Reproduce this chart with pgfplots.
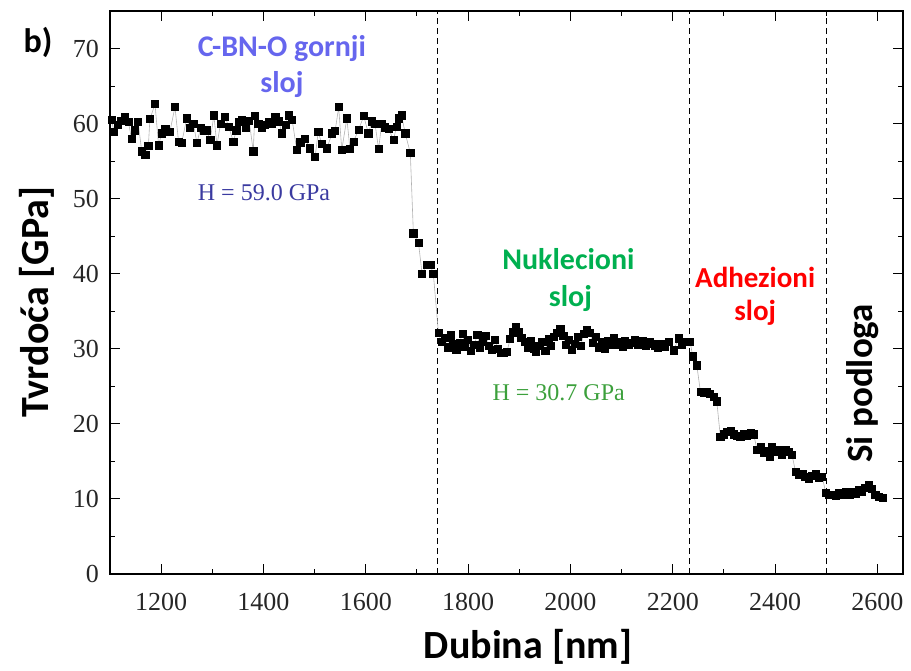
\documentclass[border=0pt]{standalone}
\usepackage{fontspec}
\setmainfont{Liberation Serif}
\newfontfamily\calib{Carlito}
\usepackage{pgfplots}
\pgfplotsset{compat=1.18}
\usepackage{pgfplotstable}

\definecolor{topblue}{RGB}{102,102,238}
\definecolor{hblue}{RGB}{58,58,160}
\definecolor{nukgreen}{RGB}{0,176,80}
\definecolor{hgreen}{RGB}{60,160,60}
\definecolor{adhred}{RGB}{255,0,0}

% nanoindentation hardness profile: depth [nm], hardness [GPa]
\pgfplotstableread{
x y
1103 60.5
1108 58.9
1115 59.8
1122 60.4
1129 60.9
1136 60.2
1142 58.0
1149 59.1
1155 60.2
1162 56.3
1169 55.8
1175 57.0
1178 60.6
1188 62.6
1195 57.1
1201 58.7
1208 59.3
1217 58.9
1227 62.2
1234 57.6
1240 57.4
1250 60.7
1256 59.4
1263 60.0
1270 57.4
1277 59.4
1283 59.0
1289 59.1
1296 57.8
1303 61.1
1309 57.1
1316 60.0
1325 60.9
1332 59.6
1341 57.6
1347 59.1
1352 60.2
1358 60.5
1365 59.5
1372 60.4
1380 56.3
1383 61.0
1390 60.0
1397 59.4
1403 59.8
1410 60.2
1417 60.0
1423 60.9
1430 60.3
1436 58.7
1443 59.8
1449 61.1
1456 60.5
1465 56.5
1472 57.5
1481 58.0
1491 56.7
1501 55.6
1507 58.9
1514 57.3
1524 56.7
1534 58.7
1540 59.0
1547 62.2
1553 56.5
1563 60.7
1569 56.6
1576 57.6
1586 59.2
1596 61.0
1605 58.7
1612 60.3
1618 60.0
1625 56.6
1631 60.0
1637 59.5
1645 59.3
1654 57.8
1660 59.6
1664 60.7
1670 61.1
1677 58.7
1687 56.1
1693 45.4
1703 44.1
1710 40.0
1719 41.2
1726 41.2
1732 40.0
1742 32.1
1748 30.9
1754 31.5
1760 30.2
1766 31.8
1771 30.6
1777 29.9
1783 30.8
1789 32.0
1794 30.3
1800 31.2
1806 29.7
1812 30.5
1818 31.9
1823 30.1
1829 31.0
1835 31.7
1841 30.4
1847 29.9
1852 31.2
1858 30.0
1864 29.5
1870 29.5
1876 29.6
1882 31.3
1887 32.2
1893 32.9
1899 32.2
1904 31.5
1910 30.9
1916 30.2
1922 31.0
1928 30.0
1933 29.6
1939 30.4
1945 30.9
1951 29.7
1957 31.3
1962 30.4
1968 31.6
1974 32.1
1980 32.6
1986 31.7
1991 30.5
1997 31.2
2003 29.9
2009 30.7
2015 31.6
2020 30.4
2026 32.0
2032 32.5
2038 32.1
2044 30.8
2049 31.6
2055 30.2
2061 30.9
2067 30.0
2073 31.1
2078 30.5
2084 31.4
2090 30.6
2096 30.9
2102 30.3
2107 31.0
2113 30.6
2119 30.8
2125 31.2
2131 30.5
2136 30.7
2142 31.0
2148 30.4
2154 30.9
2160 30.7
2165 30.4
2171 30.2
2177 30.6
2185 30.3
2192 30.9
2202 29.8
2211 31.4
2218 30.6
2225 30.9
2234 30.9
2239 29.0
2247 27.8
2254 24.3
2260 24.2
2266 24.3
2273 24.0
2280 23.6
2286 23.0
2293 18.3
2300 18.6
2306 18.9
2313 19.0
2320 18.6
2326 18.4
2332 18.3
2339 18.7
2345 18.4
2352 18.8
2358 18.6
2365 16.5
2372 16.9
2378 16.1
2384 16.4
2390 15.6
2394 16.9
2400 16.3
2407 16.5
2413 15.9
2420 16.5
2427 16.3
2433 15.9
2440 13.6
2446 13.2
2453 13.4
2459 13.0
2466 12.7
2472 13.1
2479 13.3
2485 12.8
2492 13.0
2499 10.8
2505 10.5
2512 10.6
2518 10.4
2525 10.8
2531 10.6
2538 10.9
2545 10.5
2551 11.0
2558 10.7
2563 11.2
2570 10.9
2576 11.5
2583 11.9
2589 11.3
2596 10.6
2603 10.3
2610 10.1
}\hardness

\begin{document}
\begin{tikzpicture}
\useasboundingbox (-110pt,-96pt) rectangle (801pt,574pt);
\begin{axis}[
  width=793pt, height=563pt, scale only axis,
  xmin=1100, xmax=2650, ymin=0, ymax=75,
  xtick={1200,1400,...,2600},
  minor xtick={1100,1300,...,2500},
  ytick={0,10,...,70},
  minor ytick={5,15,...,65},
  major tick length=10pt, minor tick length=5pt,
  tick style={black, line width=1pt},
  axis line style={line width=1.3pt},
  /pgf/number format/assume math mode=true,
  /pgf/number format/1000 sep={},
  ticklabel style={font=\fontsize{26}{26}\selectfont, text=black!85},
  xticklabel style={anchor=north, inner sep=0pt, yshift=-19pt},
  yticklabel style={anchor=east, inner sep=0pt, xshift=-11pt},
  clip=false,
]
% layer boundaries
\foreach \d in {1740,2233,2500}{
  \edef\tmp{\noexpand\draw[black, line width=1.4pt, dash pattern=on 6pt off 4pt] (axis cs:\d,0) -- (axis cs:\d,75);}
  \tmp
}
\addplot[gray!60, line width=0.6pt, mark=square*, mark size=3.6pt,
  mark options={black, fill=black}] table[x=x, y=y] {\hardness};

% layer names and mean hardness
\node[font=\calib\bfseries\fontsize{30}{30}\selectfont, text=topblue, anchor=base] at (axis cs:1436,69.0) {C-BN-O gornji};
\node[font=\calib\bfseries\fontsize{30}{30}\selectfont, text=topblue, anchor=base] at (axis cs:1436,64.1) {sloj};
\node[font=\fontsize{24}{24}\selectfont, text=hblue, anchor=base] at (axis cs:1401,49.8) {H = 59.0 GPa};
\node[font=\calib\bfseries\fontsize{30}{30}\selectfont, text=nukgreen, anchor=base] at (axis cs:1996,40.5) {Nuklecioni};
\node[font=\calib\bfseries\fontsize{30}{30}\selectfont, text=nukgreen, anchor=base] at (axis cs:2000,35.6) {sloj};
\node[font=\fontsize{24}{24}\selectfont, text=hgreen, anchor=base] at (axis cs:1977,23.1) {H = 30.7 GPa};
\node[font=\calib\bfseries\fontsize{29}{29}\selectfont, text=adhred, anchor=base] at (axis cs:2361,38.2) {Adhezioni};
\node[font=\calib\bfseries\fontsize{29}{29}\selectfont, text=adhred, anchor=base] at (axis cs:2361,33.8) {sloj};
\node[font=\calib\bfseries\fontsize{37}{37}\selectfont, text=black, rotate=90, anchor=base] at (axis cs:2590,25.4) {Si podloga};
\end{axis}
% axis titles and panel letter
\node[font=\calib\bfseries\fontsize{40}{40}\selectfont, anchor=base] at (418pt,-84pt) {Dubina [nm]};
\node[font=\calib\bfseries\fontsize{40}{40}\selectfont, rotate=90, anchor=center] at (-73pt,272pt) {Tvrdoća [GPa]};
\node[font=\calib\bfseries\fontsize{34}{34}\selectfont, anchor=center] at (-72pt,532pt) {b)};
\end{tikzpicture}
\end{document}
